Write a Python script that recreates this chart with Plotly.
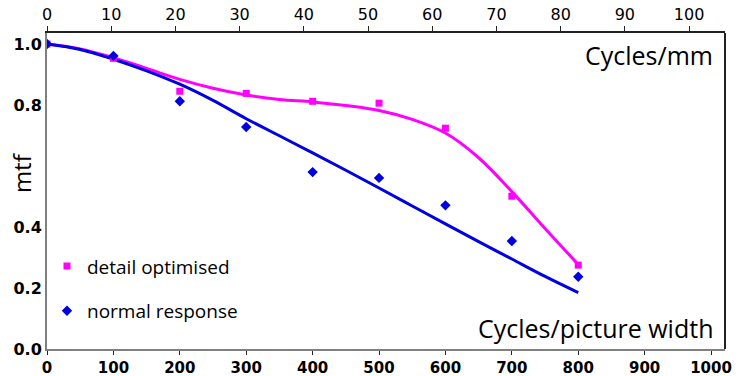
import plotly.graph_objects as go

# Measured MTF points (cycles per picture width -> modulation)
freq_cpw = [0, 100, 200, 300, 400, 500, 600, 700, 800]
detail_pts = [1.0, 0.953, 0.845, 0.838, 0.812, 0.806, 0.724, 0.501, 0.275]
normal_pts = [1.0, 0.961, 0.812, 0.728, 0.580, 0.561, 0.471, 0.354, 0.237]

# Smoothed response curves
curve_cpw = [0, 50, 100, 150, 200, 250, 300, 350, 400, 450, 500, 550, 600, 650, 700, 750, 800]
detail_curve = [1.0, 0.984, 0.955, 0.92, 0.884, 0.855, 0.833, 0.818, 0.81, 0.798, 0.782,
                0.753, 0.708, 0.627, 0.516, 0.395, 0.277]
normal_curve = [1.0, 0.982, 0.95, 0.912, 0.868, 0.815, 0.755, 0.699, 0.643, 0.586, 0.528,
                0.469, 0.41, 0.352, 0.295, 0.238, 0.185]

x_ticks = [0, 100, 200, 300, 400, 500, 600, 700, 800, 900, 1000]
mm_ticks = [0, 10, 20, 30, 40, 50, 60, 70, 80, 90, 100]
y_ticks = [0.0, 0.2, 0.4, 0.8, 1.0]
y_tick_text = ["0.0", "0.2", "0.4", "0.8", "1.0"]

MAGENTA = "#ff00ff"
BLUE = "#0000e0"
FONT = "Open Sans, DejaVu Sans, sans-serif"
TICK_FONT = "DejaVu Sans, sans-serif"

fig = go.Figure()

fig.add_trace(go.Scatter(x=curve_cpw, y=detail_curve, mode="lines", line_shape="spline",
                         line=dict(color=MAGENTA, width=3), showlegend=False, hoverinfo="skip"))
fig.add_trace(go.Scatter(x=curve_cpw, y=normal_curve, mode="lines", line_shape="spline",
                         line=dict(color=BLUE, width=3), showlegend=False, hoverinfo="skip"))

fig.add_trace(go.Scatter(x=freq_cpw, y=detail_pts, mode="markers", name="detail optimised",
                         legendgroup="a",
                         marker=dict(symbol="square", size=7, color=MAGENTA)))
fig.add_trace(go.Scatter(x=freq_cpw, y=normal_pts, mode="markers", name="normal response",
                         legendgroup="b",
                         marker=dict(symbol="diamond", size=8, color=BLUE)))

# invisible trace to activate the top cycles/mm axis
fig.add_trace(go.Scatter(x=[0], y=[0], xaxis="x2", mode="markers",
                         marker=dict(opacity=0), showlegend=False, hoverinfo="skip"))

fig.update_layout(
    width=744, height=376,
    margin=dict(l=47, r=19, t=33, b=27),
    paper_bgcolor="white", plot_bgcolor="white",
    font=dict(family=FONT, color="black"),
    xaxis=dict(range=[0, 1021], tickvals=x_ticks, ticks="outside", ticklen=4,
               tickcolor="#222", showline=True, linecolor="#808080", linewidth=2,
               showgrid=False, zeroline=False, automargin=False,
               tickfont=dict(size=15, family=TICK_FONT, weight="bold")),
    xaxis2=dict(range=[0, 105.6], tickvals=mm_ticks, overlaying="x", side="top",
                ticks="outside", ticklen=5, tickcolor="#222", showline=True,
                linecolor="#222", linewidth=2, showgrid=False, zeroline=False,
                automargin=False, tickfont=dict(size=16, family=TICK_FONT)),
    yaxis=dict(range=[0, 1.036], tickvals=y_ticks, ticktext=y_tick_text, ticks="",
               showline=True, linecolor="#808080", linewidth=2, showgrid=False,
               zeroline=False, automargin=False,
               tickfont=dict(size=16, family=TICK_FONT, weight="bold")),
    legend=dict(x=0.0, y=0.322, xanchor="left", yanchor="top", bgcolor="rgba(0,0,0,0)",
                font=dict(size=19, family=FONT), tracegroupgap=17),
    shapes=[dict(type="line", xref="paper", yref="paper", x0=1, x1=1, y0=0, y1=1,
                 line=dict(color="#222", width=2))],
    annotations=[
        dict(text="mtf", xref="paper", yref="paper", x=-0.0094, y=0.557, textangle=-90,
             xanchor="right", yanchor="middle", showarrow=False,
             font=dict(size=24, family=FONT)),
        dict(text="Cycles/mm", xref="paper", yref="paper", x=0.985, y=0.93,
             xanchor="right", yanchor="middle", showarrow=False,
             font=dict(size=25, family=FONT)),
        dict(text="Cycles/picture width", xref="paper", yref="paper", x=0.985, y=0.065,
             xanchor="right", yanchor="middle", showarrow=False,
             font=dict(size=25, family=FONT)),
    ],
)

fig.write_html("out.html")
